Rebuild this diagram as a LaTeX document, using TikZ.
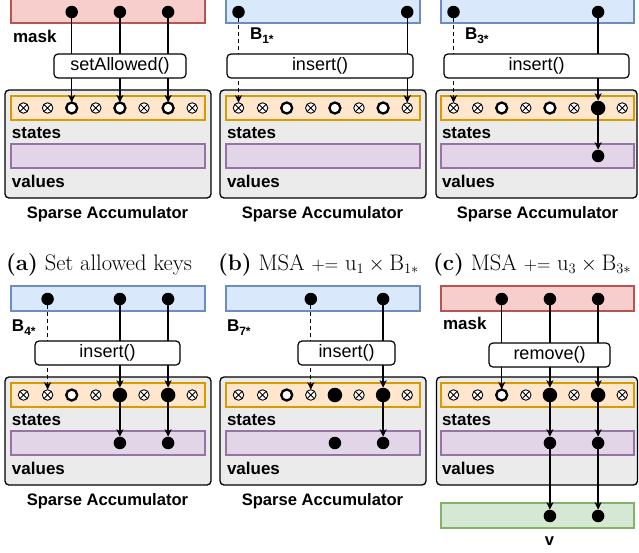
\documentclass[tikz,border=0pt]{standalone}
\usepackage{fontspec}
\setsansfont{Liberation Sans}
\usetikzlibrary{arrows.meta}
\definecolor{redF}{HTML}{F8CECC}\definecolor{redD}{HTML}{B85450}
\definecolor{bluF}{HTML}{DAE8FC}\definecolor{bluD}{HTML}{6C8EBF}
\definecolor{orF}{HTML}{FFE6CC}\definecolor{orD}{HTML}{D79B00}
\definecolor{puF}{HTML}{E1D5E7}\definecolor{puD}{HTML}{9673A6}
\definecolor{grF}{HTML}{D5E8D4}\definecolor{grD}{HTML}{82B366}
\definecolor{accF}{HTML}{EBEBEB}
\newcommand\colx[2]{#1+23.5+24.1*#2}
\newcommand\Bsub[1]{\textbf{B}\raisebox{-4pt}{\fontsize{12}{12}\selectfont\bfseries #1}}
\begin{document}
\begin{tikzpicture}[x=1pt,y=-1pt,
  every node/.style={inner sep=0pt,outer sep=0pt},
  bar/.style={draw,line width=1.3pt,minimum width=194pt,minimum height=24pt},
  maskbar/.style={bar,fill=redF,draw=redD,minimum height=25pt},
  inbar/.style={bar,fill=bluF,draw=bluD,minimum height=25pt},
  stbar/.style={bar,fill=orF,draw=orD},
  valbar/.style={bar,fill=puF,draw=puD},
  outbar/.style={bar,fill=grF,draw=grD,minimum height=25pt},
  acc/.style={draw=black,line width=1.3pt,fill=accF,rounded corners=4pt,minimum width=206pt,minimum height=108pt},
  fn/.style={draw,fill=white,rounded corners=4pt,line width=1.2pt,minimum height=24pt,font=\sffamily\fontsize{18}{18}\selectfont},
  dot/.style={circle,fill=black,minimum size=12.5pt},
  sx/.style={circle,draw,fill=white,line width=0.9pt,minimum size=10.5pt,
    path picture={\draw[line width=0.9pt] (path picture bounding box.south west) -- (path picture bounding box.north east)
      (path picture bounding box.north west) -- (path picture bounding box.south east);}},
  so/.style={circle,draw,fill=white,line width=2.3pt,minimum size=11pt},
  sf/.style={circle,fill=black,minimum size=14.5pt},
  lbl/.style={font=\sffamily\bfseries\fontsize{17}{17}\selectfont,anchor=base west},
  ttl/.style={font=\sffamily\bfseries\fontsize{16.6}{17}\selectfont,anchor=base},
  captxt/.style={font=\fontsize{22.5}{22.5}\selectfont,anchor=base west},
  arr/.style={-{Stealth[length=7.5pt,width=7pt,inset=2pt]},line width=1.3pt},
  dsh/.style={arr,dash pattern=on 4pt off 3pt}]
\useasboundingbox (0,0) rectangle (639,552);

% ---------- Panel 1 ----------
\node[acc] (p1acc) at (108,144) {};
\node[maskbar] (p1in) at (108,10.5) {};
\node[stbar] (p1st) at (108,108) {};
\node[valbar] (p1val) at (108,156) {};
\foreach \t [count=\i from 0] in {sx,sx,so,sx,so,sx,so,sx} \node[\t] (p1s\i) at ({\colx{0}{\i}},108) {};
\foreach \i in {2,4,6} \node[dot] (p1d\i) at ({\colx{0}{\i}},12) {};
\node[lbl] (p1lm) at (13,42) {mask};
\node[lbl] (p1ls) at (12,138) {states};
\node[lbl] (p1lv) at (12,187) {values};
\node[ttl] (p1t) at (107.5,218) {Sparse Accumulator};
\foreach \i in {2,4,6} \draw[arr] (p1d\i) -- (p1s\i);
\node[fn,minimum width=132pt] (p1f) at (120,66) {setAllowed()};

% ---------- Panel 2 ----------
\node[acc] (p2acc) at (323,144) {};
\node[inbar] (p2in) at (323,10.5) {};
\node[stbar] (p2st) at (323,108) {};
\node[valbar] (p2val) at (323,156) {};
\foreach \t [count=\i from 0] in {sx,sx,so,sx,so,sx,so,sx} \node[\t] (p2s\i) at ({\colx{215}{\i}},108) {};
\foreach \i in {0,7} \node[dot] (p2d\i) at ({\colx{215}{\i}},12) {};
\node[lbl] (p2lb) at (250,39) {\Bsub{1*}};
\node[lbl] (p2ls) at (227,138) {states};
\node[lbl] (p2lv) at (227,187) {values};
\node[ttl] (p2t) at (322.5,218) {Sparse Accumulator};
\draw[dsh] (p2d0) -- (p2s0);
\draw[arr] (p2d7) -- (p2s7);
\node[fn,minimum width=186pt] (p2f) at (320,66) {insert()};

% ---------- Panel 3 ----------
\node[acc,minimum width=201pt] (p3acc) at (536.5,144) {};
\node[inbar,minimum width=193pt] (p3in) at (537.5,10.5) {};
\node[stbar,minimum width=193pt] (p3st) at (537.5,108) {};
\node[valbar,minimum width=193pt] (p3val) at (537.5,156) {};
\foreach \t [count=\i from 0] in {sx,sx,so,sx,so,sx,sf,sx} \node[\t] (p3s\i) at ({\colx{430}{\i}},108) {};
\foreach \i in {0,6} \node[dot] (p3d\i) at ({\colx{430}{\i}},12) {};
\node[dot] (p3v6) at ({\colx{430}{6}},156) {};
\node[lbl] (p3lb) at (465,39) {\Bsub{3*}};
\node[lbl] (p3ls) at (442,138) {states};
\node[lbl] (p3lv) at (442,187) {values};
\node[ttl] (p3t) at (537.5,218) {Sparse Accumulator};
\draw[dsh] (p3d0) -- (p3s0);
\draw[arr] (p3d6) -- (p3s6);
\draw[arr] (p3s6) -- (p3v6);
\node[fn,minimum width=185pt] (p3f) at (536.5,66) {insert()};

% ---------- Captions ----------
\node[captxt] (capa) at (6,270) {\textbf{(a)} Set allowed keys};
\node[captxt] (capb) at (218,270) {\textbf{(b)} MSA {\fontsize{18.5}{18.5}\selectfont +=} $\mathrm{u}_1\times\mathrm{B}_{1*}$};
\node[captxt] (capc) at (433,270) {\textbf{(c)} MSA {\fontsize{18.5}{18.5}\selectfont +=} $\mathrm{u}_3\times\mathrm{B}_{3*}$};

% ---------- Panel 4 ----------
\node[acc] (p4acc) at (108,431) {};
\node[inbar] (p4in) at (108,298.5) {};
\node[stbar] (p4st) at (108,395) {};
\node[valbar] (p4val) at (108,443) {};
\foreach \t [count=\i from 0] in {sx,sx,so,sx,sf,sx,sf,sx} \node[\t] (p4s\i) at ({\colx{0}{\i}},395) {};
\foreach \i in {1,4,6} \node[dot] (p4d\i) at ({\colx{0}{\i}},299) {};
\foreach \i in {4,6} \node[dot] (p4v\i) at ({\colx{0}{\i}},443) {};
\node[lbl] (p4lb) at (12,331) {\Bsub{4*}};
\node[lbl] (p4ls) at (12,425) {states};
\node[lbl] (p4lv) at (12,474) {values};
\node[ttl] (p4t) at (107.5,505) {Sparse Accumulator};
\draw[dsh] (p4d1) -- (p4s1);
\foreach \i in {4,6} {\draw[arr] (p4d\i) -- (p4s\i); \draw[arr] (p4s\i) -- (p4v\i);}
\node[fn,minimum width=145pt] (p4f) at (107.5,353) {insert()};

% ---------- Panel 5 ----------
\node[acc] (p5acc) at (323,431) {};
\node[inbar] (p5in) at (323,298.5) {};
\node[stbar] (p5st) at (323,395) {};
\node[valbar] (p5val) at (323,443) {};
\foreach \t [count=\i from 0] in {sx,sx,so,sx,sf,sx,sf,sx} \node[\t] (p5s\i) at ({\colx{215}{\i}},395) {};
\foreach \i in {3,6} \node[dot] (p5d\i) at ({\colx{215}{\i}},299) {};
\foreach \i in {4,6} \node[dot] (p5v\i) at ({\colx{215}{\i}},443) {};
\node[lbl] (p5lb) at (227,331) {\Bsub{7*}};
\node[lbl] (p5ls) at (227,425) {states};
\node[lbl] (p5lv) at (227,474) {values};
\node[ttl] (p5t) at (322.5,505) {Sparse Accumulator};
\draw[dsh] (p5d3) -- (p5s3);
\draw[arr] (p5d6) -- (p5s6);
\draw[arr] (p5s6) -- (p5v6);
\node[fn,minimum width=97pt] (p5f) at (346.5,353) {insert()};

% ---------- Panel 6 ----------
\node[acc,minimum width=201pt] (p6acc) at (537,431) {};
\node[maskbar,minimum width=193pt] (p6in) at (537.5,298.5) {};
\node[stbar,minimum width=193pt] (p6st) at (537.5,395) {};
\node[valbar,minimum width=193pt] (p6val) at (537.5,443) {};
\node[outbar,minimum width=193pt] (p6out) at (537.5,515.5) {};
\foreach \t [count=\i from 0] in {sx,sx,so,sx,sf,sx,sf,sx} \node[\t] (p6s\i) at ({\colx{430}{\i}},395) {};
\foreach \i in {2,4,6} \node[dot] (p6d\i) at ({\colx{430}{\i}},299) {};
\foreach \i in {4,6} \node[dot] (p6v\i) at ({\colx{430}{\i}},443) {};
\foreach \i in {4,6} \node[dot] (p6o\i) at ({\colx{430}{\i}},516) {};
\node[lbl] (p6lm) at (443,329) {mask};
\node[lbl] (p6ls) at (442,425) {states};
\node[lbl] (p6lv) at (442,474) {values};
\node[ttl] (p6lo) at (549.5,545) {v};
\foreach \i in {2,4,6} \draw[arr] (p6d\i) -- (p6s\i);
\foreach \i in {4,6} {\draw[arr] (p6s\i) -- (p6v\i); \draw[arr] (p6v\i) -- (p6o\i);}
\node[fn,minimum width=121pt] (p6f) at (549.5,355) {remove()};
\end{tikzpicture}
\end{document}
